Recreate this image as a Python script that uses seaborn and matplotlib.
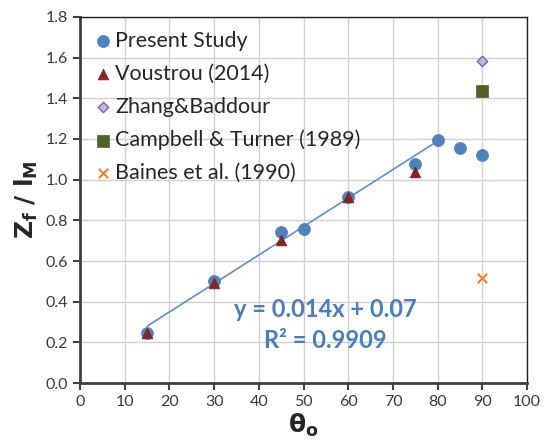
import matplotlib
matplotlib.use("Agg")
import matplotlib.pyplot as plt
import seaborn as sns
import pandas as pd
import numpy as np

present_x = [15, 30, 45, 50, 60, 75, 80, 85, 90]
present_y = [0.245, 0.50, 0.745, 0.76, 0.915, 1.075, 1.195, 1.155, 1.12]
voustrou_x = [15, 30, 45, 60, 75]
voustrou_y = [0.245, 0.49, 0.705, 0.915, 1.04]
zhang_x = [90]
zhang_y = [1.585]
campbell_x = [90]
campbell_y = [1.435]
baines_x = [90]
baines_y = [0.515]
trend_slope = 0.014
trend_intercept = 0.07
trend_range = [15, 80]
x_ticks = list(range(0, 101, 10))
y_ticks = [0.0, 0.2, 0.4, 0.6, 0.8, 1.0, 1.2, 1.4, 1.6, 1.8]

sns.set_style("white")
plt.rcParams['font.family'] = ['Lato', 'DejaVu Sans']

fig = plt.figure(figsize=(5.48, 4.44), dpi=100)
ax = fig.add_axes([0.146, 0.137, 0.816, 0.825])

ax.grid(True, color="#d0d0d0", linewidth=1.0)
ax.set_axisbelow(True)

tx = np.array(trend_range, dtype=float)
ax.plot(tx, trend_slope * tx + trend_intercept, color="#5b8fd0", linewidth=1.2, zorder=2)

sns.scatterplot(x=present_x, y=present_y, ax=ax, color="#4f81bd", marker="o", s=75,
                edgecolor="#4f81bd", linewidth=0.5, label="Present Study", zorder=3)
sns.scatterplot(x=voustrou_x, y=voustrou_y, ax=ax, color="#832525", marker="^", s=60,
                edgecolor="#832525", linewidth=0.5, label="Voustrou (2014)", zorder=4)
sns.scatterplot(x=zhang_x, y=zhang_y, ax=ax, color="#c6b5dc", marker="D", s=28,
                edgecolor="#8064a2", linewidth=1.0, label="Zhang&Baddour", zorder=4)
sns.scatterplot(x=campbell_x, y=campbell_y, ax=ax, color="#4f6228", marker="s", s=70,
                edgecolor="#4f6228", linewidth=0.5, label="Campbell & Turner (1989)", zorder=4)
sns.scatterplot(x=baines_x, y=baines_y, ax=ax, color="#f07f22", marker="x", s=45,
                linewidth=1.5, label="Baines et al. (1990)", zorder=4)

ax.set_xlim(0, 100)
ax.set_ylim(0, 1.8)
ax.set_xticks(x_ticks)
ax.set_yticks(y_ticks)
ax.set_yticklabels([f"{v:.1f}" for v in y_ticks])
ax.tick_params(axis="both", labelsize=11.5, colors="#404040", direction="out", length=5,
               width=1.5, bottom=True, left=True)
for lbl in ax.get_xticklabels() + ax.get_yticklabels():
    lbl.set_color("#3a3a3a")

for side in ["left", "bottom"]:
    ax.spines[side].set_color("#404040")
    ax.spines[side].set_linewidth(2.0)
for side in ["top", "right"]:
    ax.spines[side].set_color("#202020")
    ax.spines[side].set_linewidth(1.0)

ax.set_xlabel(r"$\mathbf{\theta_o}$", fontsize=18, labelpad=2)
ax.set_ylabel(r"$\mathbf{Z_f\ /\ l_M}$", fontsize=18, labelpad=4)

ax.text(54.8, 0.36, "y = 0.014x + 0.07", color="#4a7ebb", fontsize=17,
        fontweight="bold", ha="center", va="center")
ax.text(54.8, 0.21, "R² = 0.9909", color="#4a7ebb", fontsize=17,
        fontweight="bold", ha="center", va="center")

leg = ax.legend(loc="upper left", frameon=False, fontsize=15.5, handletextpad=0.0,
                borderaxespad=0.3, labelspacing=0.6, handlelength=1.1,
                bbox_to_anchor=(-0.008, 1.003))

fig.savefig("out.png", dpi=100)
